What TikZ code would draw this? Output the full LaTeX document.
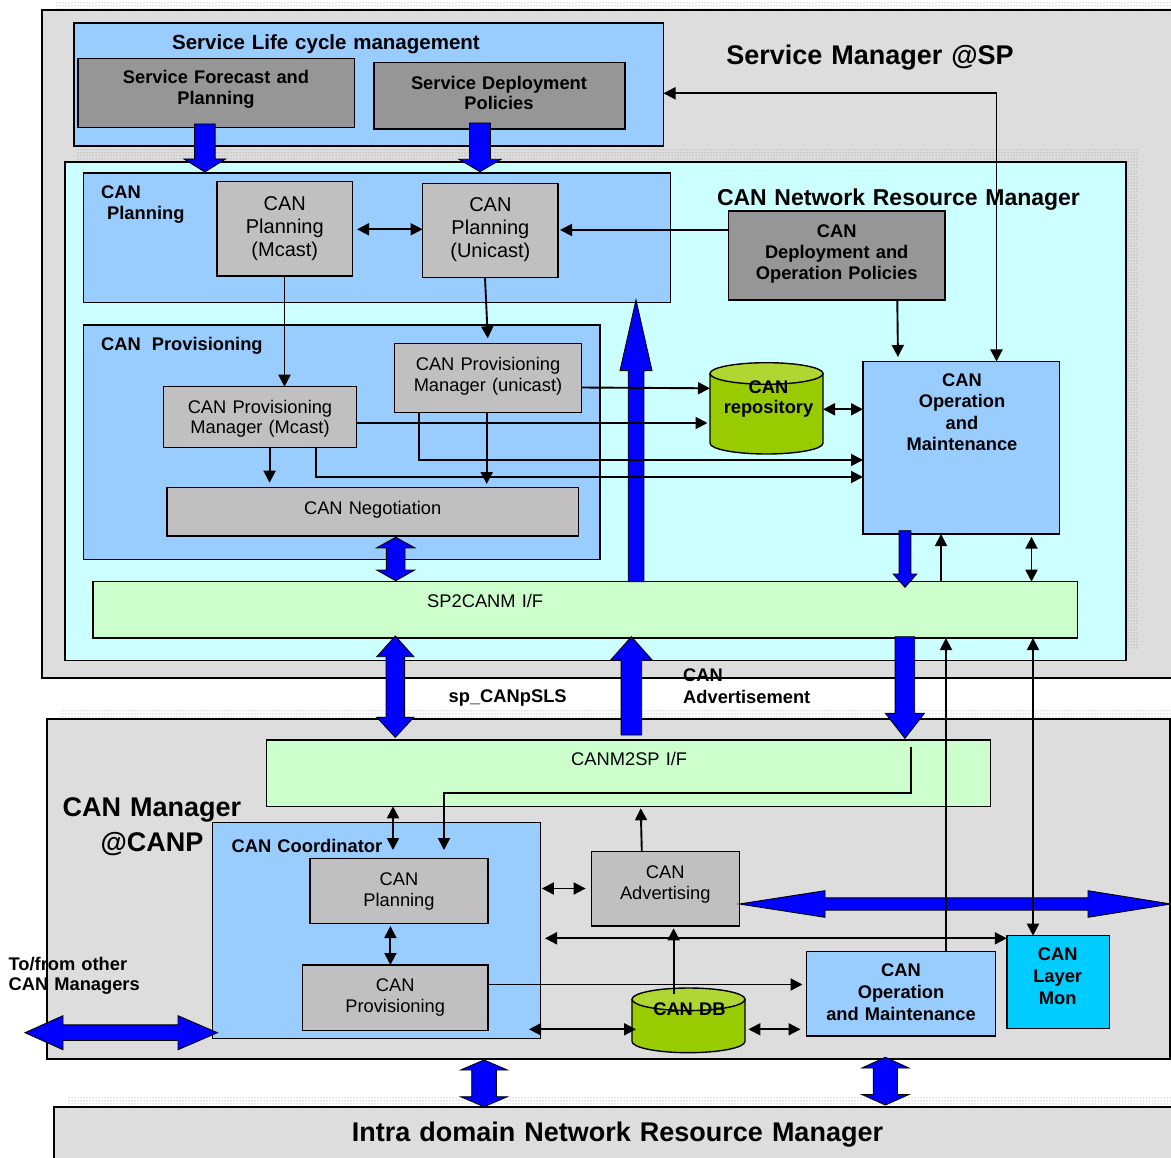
\documentclass[tikz,border=0pt]{standalone}
\usepackage{fontspec}
\setmainfont{Liberation Sans}
\usetikzlibrary{arrows.meta,patterns}

\definecolor{panel}{RGB}{221,221,221}
\definecolor{skyblue}{RGB}{153,204,255}
\definecolor{paleblue}{RGB}{204,255,255}
\definecolor{palegreen}{RGB}{204,255,204}
\definecolor{darkbox}{RGB}{150,150,150}
\definecolor{lightbox}{RGB}{192,192,192}
\definecolor{pureblue}{RGB}{0,0,255}
\definecolor{dbgreen}{RGB}{153,204,0}
\definecolor{dbtop}{RGB}{176,214,52}
\definecolor{monblue}{RGB}{0,204,255}

% rectangle node from its corners: name, style, x1, y1, x2, y2
\newcommand\bx[6]{\node[box,#2,minimum width={#5-#3},minimum height={#6-#4}] (#1) at ({(#3+#5)/2},{(#4+#6)/2}) {};}
% vertical block arrow: cx, tail y, head base y, tip y, shaft half width, head half width
\newcommand\blockv[6]{\draw[blk] ({#1-#5},#2) -- ({#1-#5},#3) -- ({#1-#6},#3) -- (#1,#4) -- ({#1+#6},#3) -- ({#1+#5},#3) -- ({#1+#5},#2) -- cycle;}
% vertical two-headed block arrow: cx, tip1, base1, base2, tip2, shaft half, head half
\newcommand\blockvv[7]{\draw[blk] (#1,#2) -- ({#1+#7},#3) -- ({#1+#6},#3) -- ({#1+#6},#4) -- ({#1+#7},#4) -- (#1,#5) -- ({#1-#7},#4) -- ({#1-#6},#4) -- ({#1-#6},#3) -- ({#1-#7},#3) -- cycle;}
% horizontal two-headed block arrow: cy, tip1, base1, base2, tip2, shaft half, head half
\newcommand\blockhh[7]{\draw[blk] (#2,#1) -- (#3,{#1-#7}) -- (#3,{#1-#6}) -- (#4,{#1-#6}) -- (#4,{#1-#7}) -- (#5,#1) -- (#4,{#1+#7}) -- (#4,{#1+#6}) -- (#3,{#1+#6}) -- (#3,{#1+#7}) -- cycle;}

\begin{document}
\begin{tikzpicture}[x=1pt,y=-1pt,
  box/.style={draw,line width=1.5pt,inner sep=0,outer sep=0},
  blk/.style={draw,line width=0.9pt,fill=pureblue,line join=miter},
  con/.style={line width=1.9pt},
  arr/.style={con,-{Triangle[length=12pt,width=12pt]}},
  dbl/.style={con,{Triangle[length=12pt,width=12pt]}-{Triangle[length=12pt,width=12pt]}},
  lbl/.style={inner sep=0,anchor=base,text width=700pt,align=center},
  lbll/.style={inner sep=0,anchor=base west,text width=700pt,align=left},
  tn/.style={font=\fontsize{18.3}{21}\selectfont},
  tb/.style={font=\fontsize{18.3}{21}\selectfont\bfseries},
  dotshade/.style={pattern=dots,pattern color=black!45},
  cylbody/.style={draw,line width=1.4pt,fill=dbgreen},
  cyltop/.style={draw,line width=1.4pt,fill=dbtop},
]
\useasboundingbox (0,0) rectangle (1171,1158);
\clip (0,0) rectangle (1171,1158);
\fill[white] (0,0) rectangle (1171,1158);

% ---------------- Service Manager @SP ----------------
\fill[dotshade] (55,2.7) rectangle (1200,670);
\bx{sm}{fill=panel,line width=1.7pt}{42}{10}{1200}{678}
\bx{slc}{fill=skyblue}{74}{23}{663.5}{146}
\bx{sfp}{fill=darkbox}{78}{58.3}{354.4}{127.7}
\bx{sdp}{fill=darkbox}{374}{62.3}{625}{129}

\fill[dotshade] (77,150) rectangle (1138,649);
\bx{nrm}{fill=paleblue}{65}{162}{1126}{660.7}
\bx{cpl}{fill=skyblue}{83.5}{173}{670.7}{302.7}
\bx{plm}{fill=lightbox}{217}{181.7}{352.6}{276}
\bx{plu}{fill=lightbox}{422.6}{183.3}{558.2}{277.3}
\bx{dop}{fill=darkbox}{728.3}{211}{945}{300}
\bx{cpr}{fill=skyblue}{83.5}{325}{600}{559.3}
\bx{pmu}{fill=lightbox}{394.6}{343.3}{581.4}{412.3}
\bx{pmm}{fill=lightbox}{163.6}{386.7}{356.4}{447.3}
\bx{neg}{fill=lightbox}{167}{487.7}{578.5}{536}
\bx{oam}{fill=skyblue}{863}{361.5}{1059.5}{534}
\bx{sp2}{fill=palegreen,line width=1.2pt}{93}{581.7}{1077.5}{638}

% CAN repository drum
\node[inner sep=0,outer sep=0,minimum width=113,minimum height=91.3] (repo) at (766.5,408.35) {};
\filldraw[cylbody] (710,373.5) -- (710,443.2) arc[start angle=180,end angle=360,x radius=56.5pt,y radius=10.8pt] -- (823,373.5) -- cycle;
\filldraw[cyltop] (766.5,373.5) ellipse[x radius=56.5pt,y radius=10.8pt];

% ---------------- CAN Manager @CANP ----------------
\fill[dotshade] (60,709) rectangle (1183,1049);
\bx{cm}{fill=panel,line width=1.7pt}{47}{719}{1170}{1059}
\bx{m2s}{fill=palegreen,line width=1.2pt}{266.7}{740}{990.6}{806.3}
\bx{coord}{fill=skyblue}{212.4}{822.5}{540.4}{1038.3}
\bx{bpl}{fill=lightbox}{310}{858.3}{488}{923.3}
\bx{bpr}{fill=lightbox}{302.3}{965}{488}{1030.7}
\bx{adv}{fill=lightbox}{591.3}{851.5}{739.3}{926}
\bx{oam2}{fill=skyblue}{806.5}{951.7}{995.4}{1036}
\bx{lmon}{fill=monblue}{1006.8}{935.7}{1109.6}{1028.3}

% CAN DB drum
\node[inner sep=0,outer sep=0,minimum width=113,minimum height=64.7] (cdb) at (688.5,1020.35) {};
\filldraw[cylbody] (632,999.3) -- (632,1041.4) arc[start angle=180,end angle=360,x radius=56.5pt,y radius=11.3pt] -- (745,999.3) -- cycle;
\filldraw[cyltop] (688.5,999.3) ellipse[x radius=56.5pt,y radius=11.3pt];

% ---------------- Intra domain NRM ----------------
\fill[dotshade] (67,1097) rectangle (1213,1200);
\bx{intra}{fill=panel,line width=1.7pt}{54}{1107}{1200}{1200}

% ---------------- block arrows ----------------
\blockv{204.8}{124}{159}{172}{10.3}{20.8}
\blockv{480}{123}{159.3}{171.7}{10.5}{21}
\blockv{636}{581.7}{370.7}{300}{7.8}{16}
\blockvv{395.7}{537.3}{547.8}{570}{580.7}{9.3}{19}
\blockv{905}{530.7}{574}{587.3}{5.9}{11.8}
\blockvv{395.3}{636}{656.7}{717.3}{737.3}{9.3}{18.5}
\blockv{631.4}{735}{660}{636.7}{10.3}{20.7}
\blockv{904.9}{636.7}{713.3}{738.3}{9.8}{19.5}
\blockhh{904}{739.2}{825}{1088}{1171}{6.2}{13.3}
\blockhh{1032.7}{25}{63}{178}{217.4}{7.8}{17}
\blockvv{484}{1060}{1070}{1096.7}{1106.7}{12.3}{23.3}
\blockvv{885.4}{1057.3}{1068}{1094.5}{1105}{12}{23.5}

% ---------------- connectors ----------------
\draw[dbl] (slc.east |- 0,93.3) -| (oam.north -| 996.5,0);
\draw[dbl,shorten <=4.4pt] (plm.east |- 0,229.3) -- (plu.west |- 0,229.3);
\draw[arr,shorten >=1.8pt] (dop.west |- 0,230) -- (plu.east |- 0,230);
\draw[arr] (plm.south -| 284.5,0) -- (pmm.north -| 284.5,0);
\draw[arr,shorten >=5pt] (plu.south -| 485,0) -- (pmu.north -| 488,0);
\draw[arr,shorten >=4.5pt] (dop.south -| 897.3,0) -- (oam.north -| 898,0);
\draw[arr] (pmu.east |- 0,387.5) -- (repo.west |- 0,388.3);
\draw[arr,shorten >=2.5pt] (pmm.east |- 0,423) -- (repo.west |- 0,423);
\draw[dbl] (repo.east |- 0,409.3) -- (oam.west |- 0,409.3);
\draw[arr] (pmu.south -| 419,0) |- (oam.west |- 0,460);
\draw[arr] (pmm.south -| 315.7,0) |- (oam.west |- 0,477);
\draw[arr,shorten >=5pt] (pmm.south -| 269.6,0) -- (neg.north -| 269.6,0);
\draw[arr,shorten >=3.7pt] (pmu.south -| 486.7,0) -- (neg.north -| 486.7,0);
\draw[arr] (sp2.north -| 941,0) -- (oam.south -| 941,0);
\draw[dbl,shorten <=2.7pt] (oam.south -| 1031.5,0) -- (sp2.north -| 1031.5,0);
\draw[arr] (oam2.north -| 946,0) -- (sp2.south -| 946,0);
\draw[dbl] (sp2.south -| 1033,0) -- (lmon.north -| 1033,0);

\coordinate (cin1) at (393,850);
\coordinate (cin2) at (444,850);
\coordinate (elbtop) at (910.7,747.3);
\coordinate (dbtap) at (673.6,994);
\coordinate (cdbl) at (529,1029.3);
\draw[dbl] (m2s.south -| cin1) -- (cin1);
\draw[arr] (elbtop) |- (cin2 |- 0,793.3) -- (cin2);
\draw[arr,shorten >=2pt] (adv.north -| 641.8,0) -- (m2s.south -| 640.7,0);
\draw[dbl,shorten <=1.5pt,shorten >=5.7pt] (coord.east |- 0,888.5) -- (adv.west |- 0,888.5);
\draw[dbl,shorten <=4.6pt] (coord.east |- 0,938.3) -- (lmon.west |- 0,938.3);
\draw[arr,shorten >=2.3pt] (dbtap) -- (adv.south -| dbtap);
\draw[arr,shorten >=4pt] (bpr.east |- 0,984.5) -- (oam2.west |- 0,984.5);
\draw[dbl,shorten >=-4pt] (cdbl) -- (cdb.west |- cdbl);
\draw[dbl,shorten <=3.4pt,shorten >=6pt] (cdb.east |- 0,1029.3) -- (oam2.west |- 0,1029.3);
\draw[dbl,shorten <=2.7pt] (bpl.south -| 390.4,0) -- (bpr.north -| 390.4,0);

% ---------------- texts ----------------
\node[lbl,font=\fontsize{20.5}{24}\selectfont\bfseries] at (326,50) {Service Life cycle management};
\node[lbl,tb] at (216,83.3) {Service Forecast and\\Planning};
\node[lbl,font=\fontsize{18.3}{20}\selectfont\bfseries] at (499,90) {Service Deployment\\Policies};
\node[lbl,font=\fontsize{27}{30}\selectfont\bfseries] at (870,65) {Service Manager @SP};
\node[lbl,font=\fontsize{23}{26}\selectfont\bfseries] at (898.5,205.7) {CAN Network Resource Manager};
\node[lbll,font=\fontsize{18.3}{21.7}\selectfont\bfseries] at (101,198.3) {CAN\\\hspace*{6pt}Planning};
\node[lbl,font=\fontsize{20}{23}\selectfont] at (284.8,210.7) {CAN\\Planning\\(Mcast)};
\node[lbl,font=\fontsize{20}{23}\selectfont] at (490.4,211.5) {CAN\\Planning\\(Unicast)};
\node[lbl,tb] at (836.7,237.3) {CAN\\Deployment and\\Operation Policies};
\node[lbll,tb] at (101,351) {CAN\hspace{11pt}Provisioning};
\node[lbl,font=\fontsize{18.3}{20.5}\selectfont] at (488,370.7) {CAN Provisioning\\Manager (unicast)};
\node[lbl,font=\fontsize{18.3}{20.7}\selectfont] at (260,413.3) {CAN Provisioning\\Manager (Mcast)};
\node[lbl,tn] at (372.7,514) {CAN Negotiation};
\node[lbl,font=\fontsize{18.3}{21.3}\selectfont\bfseries] at (962,386.7) {CAN\\Operation\\and\\Maintenance};
\node[lbl,font=\fontsize{18.3}{20.7}\selectfont\bfseries] at (768.5,393.3) {CAN\\repository};
\node[lbll,tn] at (427,607.3) {SP2CANM I/F};
\node[lbll,tb] at (448.5,702.7) {sp\_CANpSLS};
\node[lbll,font=\fontsize{18.3}{21.6}\selectfont\bfseries] at (683,681.7) {CAN\\Advertisement};
\node[lbll,tn] at (571,765) {CANM2SP I/F};
\node[lbl,font=\fontsize{27}{35}\selectfont\bfseries] at (152,816.7) {CAN Manager\\@CANP};
\node[lbll,tb] at (231.5,852.7) {CAN Coordinator};
\node[lbl,tn] at (399,885) {CAN\\Planning};
\node[lbl,tn] at (395.2,991.7) {CAN\\Provisioning};
\node[lbl,tn] at (665.3,878.3) {CAN\\Advertising};
\node[lbll,font=\fontsize{18.3}{20}\selectfont\bfseries] at (8.4,970) {To/from other\\CAN Managers};
\node[lbl,font=\fontsize{18.3}{21.7}\selectfont\bfseries] at (1057.7,960.7) {CAN\\Layer\\Mon};
\node[lbl,font=\fontsize{18.3}{21.7}\selectfont\bfseries] at (901,976.7) {CAN\\Operation\\and Maintenance};
\node[lbl,tb] at (689.4,1015) {CAN DB};
\node[lbl,font=\fontsize{27}{30}\selectfont\bfseries] at (617.5,1141.7) {Intra domain Network Resource Manager};
\end{tikzpicture}
\end{document}
